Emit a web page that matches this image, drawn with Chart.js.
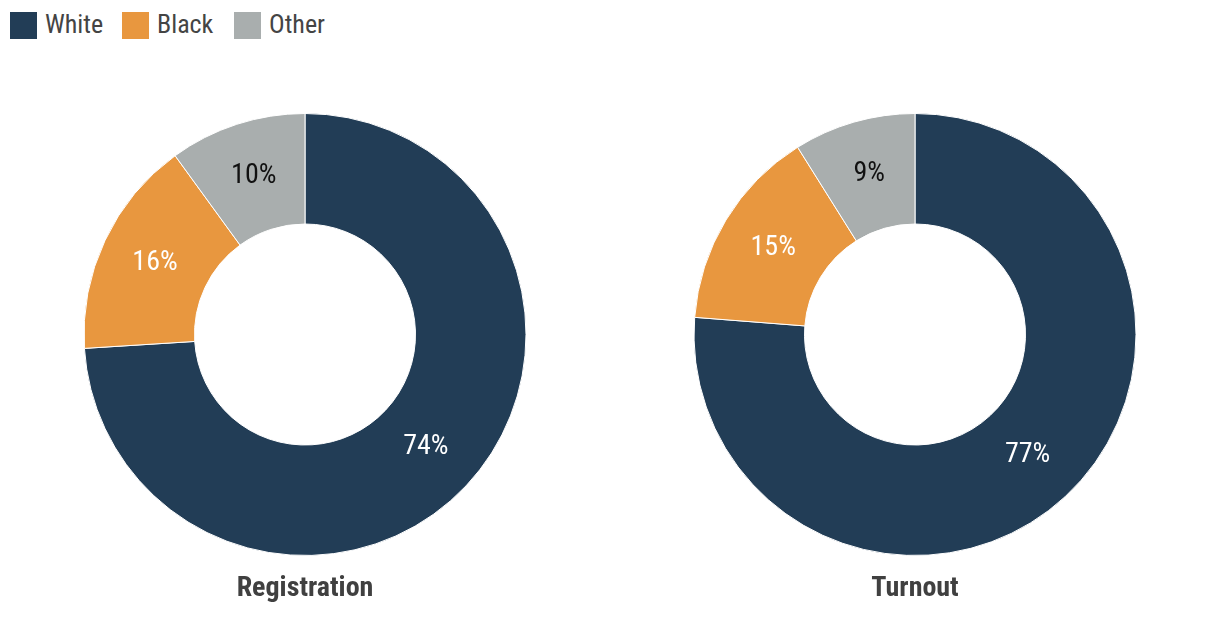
<!DOCTYPE html>
<html>
<head>
<meta charset="utf-8">
<script src="https://cdn.jsdelivr.net/npm/chart.js@4/dist/chart.umd.min.js"></script>
<style>
  html, body { margin: 0; padding: 0; background: #fff; }
  #wrap { position: relative; width: 1220px; height: 640px; overflow: hidden; }
  .cv { position: absolute; top: 0; width: 610px; height: 640px; }
  .lg-box { position: absolute; top: 12px; width: 27px; height: 27px; }
  .lg-txt { position: absolute; top: 7px; font-family: "Liberation Sans Narrow", "Roboto Condensed", Roboto, sans-serif; font-size: 26px; line-height: 34px; color: #444; }
</style>
</head>
<body>
<div id="wrap">
  <div id="legend"></div>
  <div class="cv" style="left:0"><canvas id="c1" width="610" height="640"></canvas></div>
  <div class="cv" style="left:610px"><canvas id="c2" width="610" height="640"></canvas></div>
</div>
<script>
const categories = ["White", "Black", "Other"];
const registration = [74, 16, 10];
const turnout = [77, 15, 9];
const chartTitles = ["Registration", "Turnout"];
const colors = ["#223d56", "#e8973f", "#a9aeae"];
const labelColors = ["#ffffff", "#ffffff", "#111111"];

const FONT = '"Liberation Sans Narrow", "Roboto Condensed", Roboto, sans-serif';

// HTML legend
const legendX = [[10, 45], [122, 157], [234, 269]];
const lg = document.getElementById('legend');
categories.forEach((c, i) => {
  const b = document.createElement('div');
  b.className = 'lg-box'; b.style.left = legendX[i][0] + 'px'; b.style.background = colors[i];
  const t = document.createElement('div');
  t.className = 'lg-txt'; t.style.left = legendX[i][1] + 'px'; t.textContent = c;
  lg.appendChild(b); lg.appendChild(t);
});

const labelPlugin = {
  id: 'segLabels',
  afterDatasetsDraw(chart) {
    const ctx = chart.ctx;
    const meta = chart.getDatasetMeta(0);
    ctx.save();
    ctx.font = '28px ' + FONT;
    ctx.textAlign = 'center';
    ctx.textBaseline = 'middle';
    meta.data.forEach((arc, i) => {
      const p = arc.tooltipPosition();
      ctx.fillStyle = labelColors[i];
      ctx.fillText(chart.data.datasets[0].data[i] + '%', p.x, p.y - 1);
    });
    ctx.restore();
  }
};

const titlePlugin = {
  id: 'bottomTitle',
  afterDraw(chart, args, opts) {
    const ctx = chart.ctx;
    const area = chart.chartArea;
    ctx.save();
    ctx.font = 'bold 28px ' + FONT;
    ctx.fillStyle = '#404040';
    ctx.textAlign = 'center';
    ctx.textBaseline = 'middle';
    ctx.fillText(opts.text, (area.left + area.right) / 2, 589);
    ctx.restore();
  }
};

function makeChart(id, data, title) {
  return new Chart(document.getElementById(id), {
    type: 'doughnut',
    data: {
      labels: categories,
      datasets: [{
        data: data,
        backgroundColor: colors,
        borderColor: '#ffffff',
        borderWidth: 1,
        hoverOffset: 0
      }]
    },
    options: {
      responsive: false,
      animation: false,
      cutout: '50%',
      layout: { padding: { top: 113, bottom: 84, left: 20, right: 20 } },
      plugins: {
        legend: { display: false },
        tooltip: { enabled: false },
        bottomTitle: { text: title }
      }
    },
    plugins: [labelPlugin, titlePlugin]
  });
}

makeChart('c1', registration, chartTitles[0]);
makeChart('c2', turnout, chartTitles[1]);
</script>
</body>
</html>
